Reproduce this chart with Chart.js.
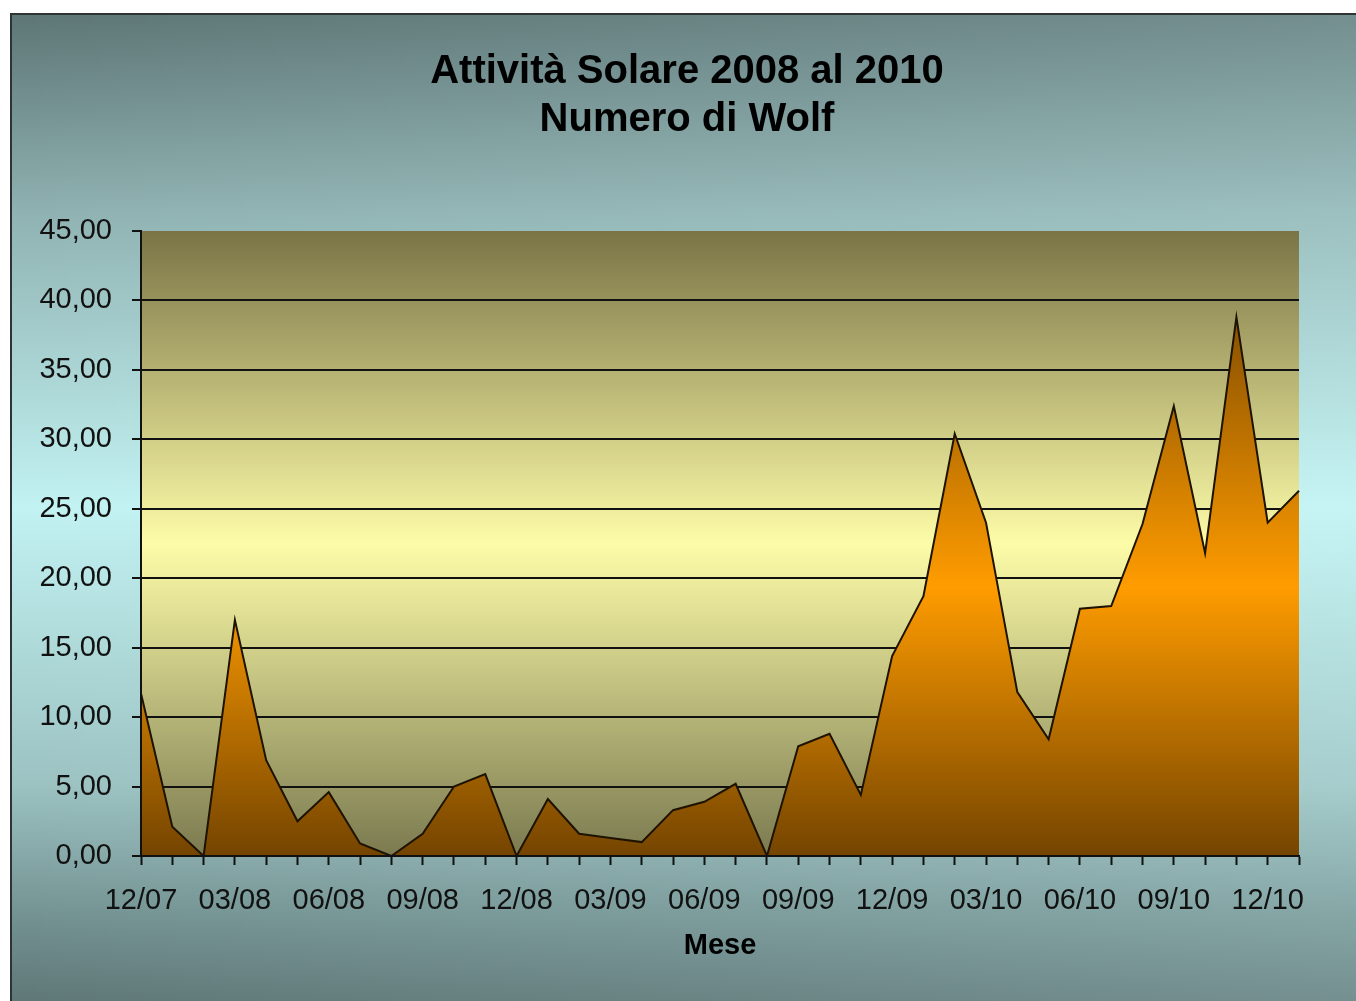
<!DOCTYPE html>
<html lang="it">
<head>
<meta charset="utf-8">
<title>Attività Solare 2008 al 2010</title>
<script src="https://cdn.jsdelivr.net/npm/chart.js@4.4.1/dist/chart.umd.min.js"></script>
<style>
    html, body { margin: 0; padding: 0; background: #fff; }
    #grafico { display: block; }
</style>
</head>
<body>
<canvas id="grafico" width="1356" height="1001"></canvas>
<script>
// ============================================================================
// Dati
// ============================================================================

const mesi = [
    '12/07', '01/08', '02/08', '03/08', '04/08', '05/08', '06/08', '07/08',
    '08/08', '09/08', '10/08', '11/08', '12/08', '01/09', '02/09', '03/09',
    '04/09', '05/09', '06/09', '07/09', '08/09', '09/09', '10/09', '11/09',
    '12/09', '01/10', '02/10', '03/10', '04/10', '05/10', '06/10', '07/10',
    '08/10', '09/10', '10/10', '11/10', '12/10', '01/11'
];

const numeroWolf = [
    11.7, 2.1, 0, 17.0, 6.9, 2.5, 4.6, 0.9,
    0, 1.6, 5.0, 5.9, 0, 4.1, 1.6, 1.3,
    1.0, 3.3, 3.9, 5.2, 0, 7.9, 8.8, 4.4,
    14.4, 18.7, 30.4, 24.0, 11.8, 8.4, 17.8, 18.0,
    23.9, 32.4, 21.8, 38.8, 24.0, 26.3
];

const titolo = ['Attività Solare 2008 al 2010', 'Numero di Wolf'];
const titoloAsseX = 'Mese';

const yMin = 0;
const yMax = 45;
const yPasso = 5;

// ============================================================================
// Stile
// ============================================================================

const FONT = "'Liberation Sans', Arial, sans-serif";
const NERO = '#111';

/**
 * Sfondo del grafico e dell'area del tracciato (sfumature stile Excel)
 */
const sfondo = {
    id: 'sfondo',
    beforeDraw(chart) {
        const { ctx, chartArea: a, width, height } = chart;
        ctx.save();

        const g = ctx.createLinearGradient(0, 13, 0, height);
        g.addColorStop(0, '#5d7575');
        g.addColorStop(0.2, '#8fb1b1');
        g.addColorStop(0.5, '#c2f2f2');
        g.addColorStop(0.78, '#9cc2c2');
        g.addColorStop(0.92, '#729090');
        g.addColorStop(1, '#5f7777');
        ctx.fillStyle = g;
        ctx.fillRect(10, 13, width - 10, height - 13);

        const h = ctx.createLinearGradient(10, 0, width, 0);
        h.addColorStop(0, 'rgba(215,255,255,0)');
        h.addColorStop(1, 'rgba(215,255,255,0.18)');
        ctx.fillStyle = h;
        ctx.fillRect(10, 13, width - 10, height - 13);

        ctx.strokeStyle = '#2e3434';
        ctx.lineWidth = 2;
        ctx.strokeRect(11, 14, width + 20, height + 20);

        const p = ctx.createLinearGradient(0, a.top, 0, a.bottom);
        p.addColorStop(0, '#7a7446');
        p.addColorStop(0.5, '#fdfca8');
        p.addColorStop(1, '#7b7a50');
        ctx.fillStyle = p;
        ctx.fillRect(a.left, a.top, a.right - a.left, a.bottom - a.top);

        ctx.restore();
    }
};

/**
 * Riempimento dell'area: scuro in alto e in basso, arancio al centro
 */
function riempimentoArea(context) {
    const chart = context.chart;
    if (!chart.chartArea) {
        return '#ff9c00';
    }
    const y = chart.scales.y;
    const alto = y.getPixelForValue(Math.max(...numeroWolf));
    const basso = y.getPixelForValue(0);
    const g = chart.ctx.createLinearGradient(0, alto, 0, basso);
    g.addColorStop(0, '#875000');
    g.addColorStop(0.5, '#ff9c00');
    g.addColorStop(1, '#744400');
    return g;
}

// ============================================================================
// Grafico
// ============================================================================

new Chart(document.getElementById('grafico'), {
    type: 'line',
    data: {
        labels: mesi,
        datasets: [{
            data: numeroWolf,
            fill: 'origin',
            backgroundColor: riempimentoArea,
            borderColor: '#1e1300',
            borderWidth: 2,
            tension: 0,
            pointRadius: 0
        }]
    },
    options: {
        responsive: false,
        animation: false,
        layout: {
            padding: { left: 18, right: 0, top: 0, bottom: 0 }
        },
        plugins: {
            legend: { display: false },
            tooltip: { enabled: false },
            title: {
                display: true,
                text: titolo,
                color: '#000',
                font: { family: FONT, size: 40, weight: 'bold', lineHeight: 1.2 },
                padding: { top: 48, bottom: 87 }
            }
        },
        scales: {
            x: {
                grid: {
                    drawOnChartArea: false,
                    tickLength: 9,
                    tickColor: NERO,
                    tickWidth: 2
                },
                border: { color: NERO, width: 2, z: 1 },
                ticks: {
                    autoSkip: false,
                    maxRotation: 0,
                    padding: 19,
                    color: NERO,
                    font: { family: FONT, size: 29 },
                    callback: (v, i) => (i % 3 === 0 ? mesi[i] : '')
                },
                title: {
                    display: true,
                    text: titoloAsseX,
                    color: '#000',
                    font: { family: FONT, size: 29, weight: 'bold' },
                    padding: { top: 0, bottom: 38 }
                },
                afterFit(scale) {
                    scale.height = 145;
                }
            },
            y: {
                min: yMin,
                max: yMax,
                grid: {
                    color: c => (c.tick && c.tick.value === yMax ? 'rgba(0,0,0,0)' : NERO),
                    lineWidth: 2,
                    tickLength: 9,
                    tickColor: NERO,
                    tickWidth: 2
                },
                border: { color: NERO, width: 2, z: 1 },
                ticks: {
                    stepSize: yPasso,
                    padding: 20,
                    color: NERO,
                    font: { family: FONT, size: 29 },
                    callback: v => v.toFixed(2).replace('.', ',')
                },
                afterFit(scale) {
                    scale.width = 123;
                }
            },
            // margine destro vuoto tra area del tracciato e bordo
            margineDx: {
                type: 'linear',
                position: 'right',
                display: true,
                grid: { display: false },
                border: { display: false },
                ticks: { display: false },
                afterFit(scale) {
                    scale.width = 57;
                }
            }
        }
    },
    plugins: [sfondo]
});
</script>
</body>
</html>
